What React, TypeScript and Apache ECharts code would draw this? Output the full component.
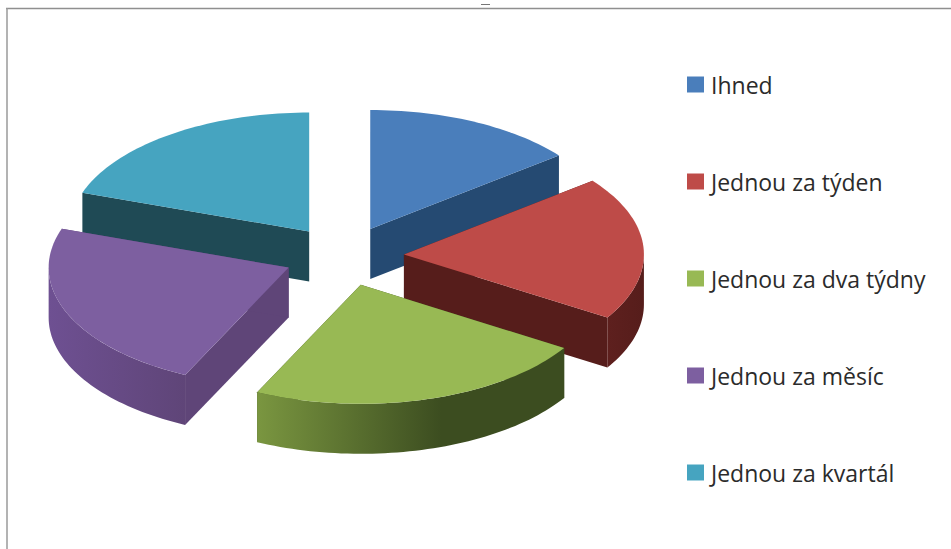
import React, { useEffect, useRef } from "react";
import * as echarts from "echarts";

// Survey answers, in percent, clockwise from twelve o'clock.
const categories = ["Ihned", "Jednou za týden", "Jednou za dva týdny", "Jednou za měsíc", "Jednou za kvartál"];
const shares = [14.4, 19.5, 23.2, 23.2, 19.7];

const topColors = ["#4a7ebb", "#be4b48", "#98b954", "#7d5fa0", "#46a4c0"];
const cutColors = ["#254a72", "#561d1b", "#3c4d20", "#5f4578", "#1f4a55"];
const rimStops = [
  ["#2c5585", "#254a72"],
  ["#5e201e", "#561d1b"],
  ["#7a9640", "#3c4d20"],
  ["#6e5092", "#5f4578"],
  ["#24565f", "#1f4a55"],
];
// Back slices are painted first so the front ones overlap their walls.
const paintOrder = [0, 4, 1, 3, 2];

const CENTER_X = 344;
const CENTER_Y = 256;
const RADIUS_X = 240;
const RADIUS_Y = 119;
const DEPTH = 50;
const EXPLODE = 60;

const total = shares.reduce((a, b) => a + b, 0);
const startAngles = shares.map((_, i) => (shares.slice(0, i).reduce((a, b) => a + b, 0) / total) * 360);

function arcPoints(ox: number, oy: number, from: number, to: number, dy: number) {
  const pts: number[][] = [];
  const steps = Math.max(2, Math.ceil(Math.abs(to - from) / 1.5));
  for (let k = 0; k <= steps; k++) {
    const t = ((from + ((to - from) * k) / steps) * Math.PI) / 180;
    pts.push([ox + RADIUS_X * Math.sin(t), oy - RADIUS_Y * Math.cos(t) + dy]);
  }
  return pts;
}

function sliceRenderer(index: number) {
  return (_params: unknown, api: any) => {
    const sweep = (api.value(0) / total) * 360;
    const a0 = startAngles[index];
    const a1 = a0 + sweep;
    const mid = ((a0 + a1) / 2) * (Math.PI / 180);
    const ox = CENTER_X + EXPLODE * Math.sin(mid);
    const oy = CENTER_Y - (EXPLODE / 2) * Math.cos(mid);
    const top = arcPoints(ox, oy, a0, a1, 0);
    const first = top[0];
    const last = top[top.length - 1];
    const children: any[] = [];
    const wall = (p: number[]) => ({
      type: "polygon",
      shape: { points: [[ox, oy], p, [p[0], p[1] + DEPTH], [ox, oy + DEPTH]] },
      style: { fill: cutColors[index] },
    });
    children.push(wall(first), wall(last));
    const rimFrom = Math.max(a0, 90);
    const rimTo = Math.min(a1, 270);
    if (rimTo > rimFrom) {
      const upper = arcPoints(ox, oy, rimFrom, rimTo, 0);
      const lower = arcPoints(ox, oy, rimFrom, rimTo, DEPTH).reverse();
      children.push({
        type: "polygon",
        shape: { points: upper.concat(lower) },
        style: {
          fill: {
            type: "linear",
            x: 0,
            y: 0,
            x2: 1,
            y2: 0,
            colorStops:
              index === 2
                ? [
                    { offset: 0, color: rimStops[index][0] },
                    { offset: 0.6, color: rimStops[index][1] },
                    { offset: 1, color: rimStops[index][1] },
                  ]
                : [
                    { offset: 0, color: rimStops[index][0] },
                    { offset: 1, color: rimStops[index][1] },
                  ],
          },
        },
      });
    }
    children.push({
      type: "polygon",
      shape: { points: [[ox, oy], ...top] },
      style: { fill: topColors[index] },
    });
    return { type: "group", children };
  };
}

export default function App() {
  const ref = useRef<HTMLDivElement>(null);
  useEffect(() => {
    document.body.style.margin = "0";
    const chart = echarts.init(ref.current!, undefined, { renderer: "svg" });
    chart.setOption({
      animation: false,
      backgroundColor: "#ffffff",
      legend: {
        orient: "vertical",
        left: 682,
        top: 67,
        icon: "rect",
        itemWidth: 17,
        itemHeight: 16,
        itemGap: 72,
        selectedMode: false,
        data: categories,
        textStyle: {
          fontFamily: "Open Sans",
          fontSize: 23,
          color: "#2b2b2b",
          padding: [0, 0, 0, 2],
          lineHeight: 25,
        },
      },
      graphic: [
        { type: "line", shape: { x1: 6, y1: 8.5, x2: 951, y2: 8.5 }, style: { stroke: "#8f8f8f", lineWidth: 1.5 } },
        { type: "line", shape: { x1: 7, y1: 8, x2: 7, y2: 549 }, style: { stroke: "#9a9a9a", lineWidth: 1.5 } },
        { type: "line", shape: { x1: 481, y1: 4.5, x2: 490, y2: 4.5 }, style: { stroke: "#777777", lineWidth: 1 } },
      ],
      series: paintOrder.map((i) => ({
        type: "custom",
        name: categories[i],
        coordinateSystem: "none",
        renderItem: sliceRenderer(i),
        itemStyle: { color: topColors[i] },
        data: [[shares[i]]],
      })),
    });
    return () => chart.dispose();
  }, []);
  return <div ref={ref} style={{ width: 951, height: 549 }} />;
}
